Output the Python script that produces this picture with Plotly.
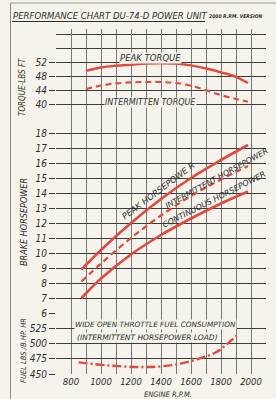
import plotly.graph_objects as go

# ---------------- data ----------------
torque_rpm = [900, 1000, 1100, 1200, 1300, 1400, 1500, 1600, 1700, 1800, 1900, 1980]
peak_torque = [49.6, 50.6, 51.1, 51.4, 51.7, 51.8, 51.7, 51.2, 50.3, 49.2, 47.9, 46.1]
intermittent_torque = [44.3, 45.4, 46.0, 46.3, 46.4, 46.4, 46.1, 45.3, 44.0, 42.6, 41.5, 40.7]

hp_rpm = [870, 1000, 1200, 1400, 1600, 1800, 1980]
peak_hp = [8.9, 10.2, 12.0, 13.6, 15.0, 16.2, 17.2]
intermittent_hp = [8.1, 9.3, 11.0, 12.5, 13.8, 14.9, 15.8]
continuous_hp = [7.0, 8.3, 9.9, 11.2, 12.3, 13.3, 14.1]

fuel_rpm = [850, 1050, 1250, 1400, 1530, 1660, 1770, 1840, 1905]
fuel_consumption = [469, 464, 461.5, 462.5, 467, 475.5, 486, 499, 513]

x_ticks = [800, 1000, 1200, 1400, 1600, 1800, 2000]
torque_ticks = [40, 44, 48, 52]
hp_ticks = list(range(6, 19))
fuel_ticks = [450, 475, 500, 525]

# ---------------- style ----------------
BG = "#f6f3ec"
RED = "#e4493d"
INK = "#2e2e2e"
VGRID = "#767a74"
HGRID = "#3c3c3c"
NARROW = "Liberation Sans Narrow, DejaVu Sans Condensed, sans-serif"
COND = "DejaVu Sans Condensed, DejaVu Sans, sans-serif"
WIDE = "DejaVu Sans, sans-serif"

W, H = 276, 399
L, R, T, B = 56, 10, 29, 25
PW, PH = W - L - R, H - T - B


def px_x(p):
    return (p - L) / PW


def px_y(p):
    return (H - B - p) / PH


fig = go.Figure()

fig.add_trace(go.Scatter(x=torque_rpm, y=peak_torque, mode="lines", yaxis="y",
                         line=dict(color=RED, width=2.4, shape="spline")))
fig.add_trace(go.Scatter(x=torque_rpm, y=intermittent_torque, mode="lines", yaxis="y",
                         line=dict(color=RED, width=2.1, dash="6px,4px", shape="spline")))

fig.add_trace(go.Scatter(x=hp_rpm, y=peak_hp, mode="lines", yaxis="y2",
                         line=dict(color=RED, width=2.6, shape="spline")))
fig.add_trace(go.Scatter(x=hp_rpm, y=intermittent_hp, mode="lines", yaxis="y2",
                         line=dict(color=RED, width=2.2, dash="6px,4px", shape="spline")))
fig.add_trace(go.Scatter(x=hp_rpm, y=continuous_hp, mode="lines", yaxis="y2",
                         line=dict(color=RED, width=2.6, shape="spline")))

fig.add_trace(go.Scatter(x=fuel_rpm, y=fuel_consumption, mode="lines", yaxis="y3",
                         line=dict(color=RED, width=2.4, dash="9px,3px,2px,3px", shape="spline")))

d_fuel = px_y(313)
d_torque = px_y(118)

common_y = dict(showline=False, zeroline=False, ticks="outside", ticklen=6,
                tickcolor=HGRID, tickwidth=1, gridcolor=HGRID, gridwidth=1,
                tickfont=dict(family=NARROW, size=10, color=INK, style="italic"),
                fixedrange=True)

fig.update_layout(
    width=W, height=H,
    margin=dict(l=L, r=R, t=T, b=B),
    paper_bgcolor=BG, plot_bgcolor=BG,
    showlegend=False,
    xaxis=dict(range=[700, 2100], anchor="y3", tickvals=x_ticks,
               ticktext=[str(v) for v in x_ticks], ticks="",
               showgrid=True, gridcolor=VGRID, gridwidth=1, zeroline=False,
               minor=dict(dtick=100, tick0=0, showgrid=True, gridcolor=VGRID, gridwidth=1),
               tickfont=dict(family=NARROW, size=9.5, color=INK, style="italic"),
               fixedrange=True),
    yaxis=dict(domain=[d_torque, 1], range=[36, 61.72], tickvals=torque_ticks,
               minor=dict(dtick=4, tick0=0, showgrid=True, gridcolor=HGRID, gridwidth=1),
               **common_y),
    yaxis2=dict(domain=[d_fuel, d_torque], range=[6, 19], tickvals=hp_ticks,
                minor=dict(dtick=1, tick0=0, showgrid=True, gridcolor=HGRID, gridwidth=1),
                **common_y),
    yaxis3=dict(domain=[0, d_fuel], range=[450, 550], tickvals=fuel_ticks,
                minor=dict(dtick=25, tick0=0, showgrid=True, gridcolor=HGRID, gridwidth=1),
                **common_y),
)

# ---------------- text ----------------
def note(text, x, y, xref="x", yref="y", size=8, angle=0, family=WIDE, bg=None,
         xanchor="center", yanchor="middle", color=INK):
    fig.add_annotation(text=text, x=x, y=y, xref=xref, yref=yref, showarrow=False,
                       textangle=angle, xanchor=xanchor, yanchor=yanchor,
                       font=dict(family=family, size=size, color=color, style="italic"),
                       bgcolor=bg, borderpad=0)

note("PEAK TORQUE", 1330, 53.4, size=8.5, bg=BG)
note("INTERMITTEN TORQUE", 1330, 40.4, size=8, bg=BG)

note("PEAK HORSEPOWE R", 1380, 14.15, yref="y2", size=8.5, angle=-37)
note("INTERMITTENT HORSEPOWER", 1770, 14.95, yref="y2", size=7.8, angle=-29)
note("CONTINUOUS HORSEPOWER", 1755, 13.55, yref="y2", size=8, angle=-27)

note("WIDE OPEN THROTTLE FUEL CONSUMPTION", 1365, 531, yref="y3", size=7.3, bg=BG)
note("(INTERMITTENT HORSEPOWER LOAD)", 1310, 510, yref="y3", size=7.5, bg=BG)

note("PERFORMANCE CHART DU-74-D POWER UNIT", px_x(12), px_y(15), xref="paper", yref="paper",
     size=9.5, xanchor="left", family=COND)
note("<b>2000 R.P.M. VERSION</b>", px_x(208), px_y(16), xref="paper", yref="paper",
     size=5, xanchor="left", family=COND)

note("TORQUE-LBS FT", px_x(22), px_y(87), xref="paper", yref="paper", size=8, angle=-90, family=COND)
note("BRAKE HORSEPOWER", px_x(24), px_y(222), xref="paper", yref="paper", size=9, angle=-90, family=COND)
note("FUEL LBS./B.HP. HR", px_x(23), px_y(351), xref="paper", yref="paper", size=7.5, angle=-90, family=COND)
note("ENGINE R.P.M.", px_x(168), px_y(394), xref="paper", yref="paper", size=7.5, family=COND)

# frame and title underline
fig.add_shape(type="line", xref="paper", yref="paper", x0=px_x(10.5), x1=px_x(10.5),
              y0=px_y(3), y1=px_y(400), line=dict(color="#8a8a86", width=1))
fig.add_shape(type="line", xref="paper", yref="paper", x0=px_x(10.5), x1=px_x(277),
              y0=px_y(3), y1=px_y(3), line=dict(color="#9a9a96", width=1))
fig.add_shape(type="line", xref="paper", yref="paper", x0=px_x(12), x1=px_x(205),
              y0=px_y(21.5), y1=px_y(21.5), line=dict(color=INK, width=1))

fig.write_html("out.html", config={"displayModeBar": False},
               post_script="document.body.style.margin='0px';document.body.style.overflow='hidden';")
